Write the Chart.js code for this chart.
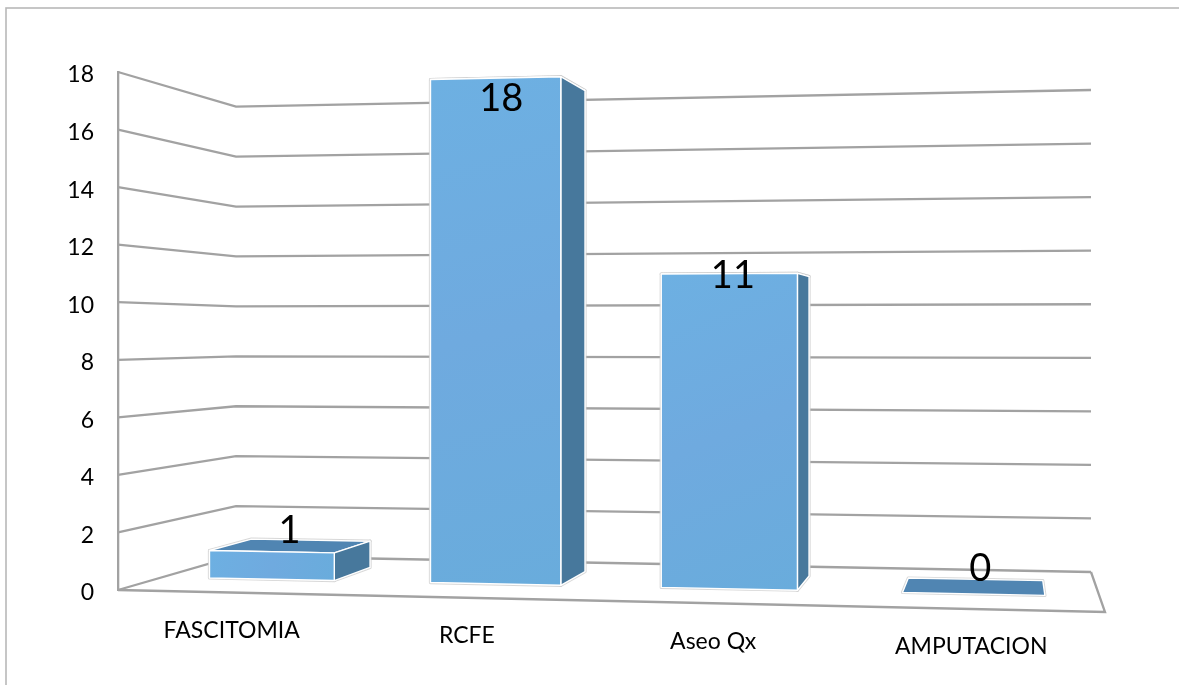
<!DOCTYPE html>
<html>
<head>
<meta charset="utf-8">
<style>
  html, body { margin: 0; padding: 0; background: #fff; overflow: hidden; }
  canvas { display: block; }
</style>
<script src="https://cdn.jsdelivr.net/npm/chart.js@4"></script>
</head>
<body>
<canvas id="chart" width="1179" height="685"></canvas>
<script>
const categories = ['FASCITOMIA', 'RCFE', 'Aseo Qx', 'AMPUTACION'];
const casos = [1, 18, 11, 0];
const yTicks = [0, 2, 4, 6, 8, 10, 12, 14, 16, 18];

// Floor of the 3D box as seen on screen: front-left, front-right, back-right, back-left.
const FLOOR = [[118, 590], [1105, 612], [1091, 572], [236, 556]];
const BAR_DEPTH = [0.35, 0.73];          // front and back of a bar within the floor depth
const HEIGHT_FALLOFF_U = -0.0782;        // how wall height shrinks along the width
const LABEL_NUDGE = [[18, -21], [6, 21], [4, 2], [7, -25]];
const CATEGORY_LABEL_DROP = 38;
const TICK_LABEL_DROP = 3;

const FONT = 'Lato, Carlito, Calibri, sans-serif';
const GRID = '#a2a2a2';
const SIDE = '#47789c';
const TOP = '#5085b2';

// Projective map from the unit floor square (u across, d into the box) to the screen.
function floorHomography(q) {
  const [[x0, y0], [x1, y1], [x2, y2], [x3, y3]] = q;
  const dx1 = x1 - x2, dx2 = x3 - x2, sx = x0 - x1 + x2 - x3;
  const dy1 = y1 - y2, dy2 = y3 - y2, sy = y0 - y1 + y2 - y3;
  const den = dx1 * dy2 - dx2 * dy1;
  const g = (sx * dy2 - dx2 * sy) / den;
  const h = (dx1 * sy - sx * dy1) / den;
  return { a: x1 - x0 + g * x1, b: x3 - x0 + h * x3, c: x0,
           d: y1 - y0 + g * y1, e: y3 - y0 + h * y3, f: y0, g, h };
}
const H = floorHomography(FLOOR);

function project(chart, u, d, value) {
  const y = chart.scales.y;
  const w = 1 + H.g * u + H.h * d;
  const wh = 1 + HEIGHT_FALLOFF_U * u + H.h * d;
  return [
    (H.a * u + H.b * d + H.c) / w,
    (H.d * u + H.e * d + H.f) / w - (y.getPixelForValue(0) - y.getPixelForValue(value)) / wh
  ];
}

function tracePoly(ctx, pts) {
  ctx.beginPath();
  pts.forEach((p, i) => i ? ctx.lineTo(p[0], p[1]) : ctx.moveTo(p[0], p[1]));
  ctx.closePath();
}

const box3d = {
  id: 'box3d',
  // Moves the axis labels onto the tilted front edge of the box.
  afterUpdate(chart) {
    const { x, y } = chart.scales;
    y.getLabelItems().forEach(item => { item.options.translation[1] += TICK_LABEL_DROP; });
    x.getLabelItems().forEach((item, i) => {
      const u = (x.getPixelForValue(i) - x.left) / x.width;
      const p = project(chart, u, 0, 0);
      item.options.translation = [p[0], p[1] + CATEGORY_LABEL_DROP];
      item.options.textBaseline = 'middle';
      item.options.textAlign = 'center';
      item.textOffset = 0;
    });
  },
  beforeDraw(chart) {
    const ctx = chart.ctx;
    ctx.save();
    ctx.strokeStyle = '#b8b8b8';
    ctx.lineWidth = 1.6;
    ctx.strokeRect(6, 8, 1500, 1000);
    ctx.restore();
  },
  // Walls and floor
  beforeDatasetsDraw(chart) {
    const ctx = chart.ctx;
    ctx.save();
    ctx.strokeStyle = GRID;
    ctx.lineWidth = 2.3;
    yTicks.forEach(v => {
      const a = project(chart, 0, 0, v), b = project(chart, 0, 1, v), c = project(chart, 1, 1, v);
      ctx.beginPath();
      ctx.moveTo(a[0], a[1]);
      ctx.lineTo(b[0], b[1]);
      ctx.lineTo(c[0], c[1]);
      ctx.stroke();
    });
    ctx.beginPath();
    const fl = project(chart, 0, 0, 0), fr = project(chart, 1, 0, 0), br = project(chart, 1, 1, 0);
    ctx.moveTo(fl[0], fl[1]);
    ctx.lineTo(fr[0], fr[1]);
    ctx.lineTo(br[0], br[1]);
    ctx.stroke();
    ctx.restore();
  },
  // Each bar is drawn as a prism from its element's position and value.
  beforeDatasetDraw(chart, args) {
    const ctx = chart.ctx;
    const x = chart.scales.x;
    const [d0, d1] = BAR_DEPTH;
    ctx.save();
    ctx.lineJoin = 'round';
    args.meta.data.forEach((bar, i) => {
      const v = casos[i];
      const uL = (bar.x - bar.width / 2 - x.left) / x.width;
      const uR = (bar.x + bar.width / 2 - x.left) / x.width;
      const P = (u, d, val) => project(chart, u, d, val);
      const top = [P(uL, d0, v), P(uR, d0, v), P(uR, d1, v), P(uL, d1, v)];
      const side = [P(uR, d0, 0), P(uR, d1, 0), P(uR, d1, v), P(uR, d0, v)];
      const front = [P(uL, d0, 0), P(uR, d0, 0), P(uR, d0, v), P(uL, d0, v)];
      const grad = ctx.createLinearGradient(front[3][0], front[3][1], front[1][0], front[1][1]);
      grad.addColorStop(0, '#6db0e2');
      grad.addColorStop(0.5, '#6faadf');
      grad.addColorStop(1, '#69acdc');
      const faces = v > 0 ? [[top, TOP], [side, SIDE], [front, grad]] : [[top, TOP]];
      faces.forEach(([pts]) => {
        tracePoly(ctx, pts);
        ctx.strokeStyle = 'rgba(205,205,205,0.8)';
        ctx.lineWidth = 3.2;
        ctx.stroke();
      });
      faces.forEach(([pts, fill]) => {
        tracePoly(ctx, pts);
        ctx.fillStyle = fill;
        ctx.fill();
        ctx.strokeStyle = '#ffffff';
        ctx.lineWidth = 1.4;
        ctx.stroke();
      });
    });
    ctx.restore();
    return false;
  },
  // Value labels
  afterDatasetsDraw(chart) {
    const ctx = chart.ctx;
    const x = chart.scales.x;
    const meta = chart.getDatasetMeta(0);
    ctx.save();
    ctx.fillStyle = '#000';
    ctx.font = '38px ' + FONT;
    ctx.textAlign = 'center';
    ctx.textBaseline = 'middle';
    meta.data.forEach((bar, i) => {
      const p = project(chart, (bar.x - x.left) / x.width, BAR_DEPTH[0], casos[i]);
      ctx.fillText(String(casos[i]), p[0] + LABEL_NUDGE[i][0], p[1] + LABEL_NUDGE[i][1]);
    });
    ctx.restore();
  }
};

new Chart(document.getElementById('chart'), {
  type: 'bar',
  data: {
    labels: categories,
    datasets: [{ label: 'Casos', data: casos, backgroundColor: '#6db0e2',
                 barPercentage: 0.57, categoryPercentage: 1 }]
  },
  options: {
    responsive: false,
    animation: false,
    layout: { padding: { top: 72, right: 74, left: 0, bottom: 0 } },
    plugins: { legend: { display: false }, title: { display: false }, tooltip: { enabled: false } },
    scales: {
      x: {
        grid: { display: false },
        border: { display: false },
        ticks: { font: { family: FONT, size: 23 }, color: '#000', maxRotation: 0, autoSkip: false },
        afterFit: s => { s.height = 95; }
      },
      y: {
        min: 0,
        max: 18,
        afterBuildTicks: s => { s.ticks = yTicks.map(value => ({ value })); },
        grid: { display: false, drawTicks: false },
        border: { display: true, color: GRID, width: 2.3 },
        ticks: { font: { family: FONT, size: 23 }, color: '#000', padding: 24 },
        afterFit: s => { s.width = 118; }
      }
    }
  },
  plugins: [box3d]
});
</script>
</body>
</html>
